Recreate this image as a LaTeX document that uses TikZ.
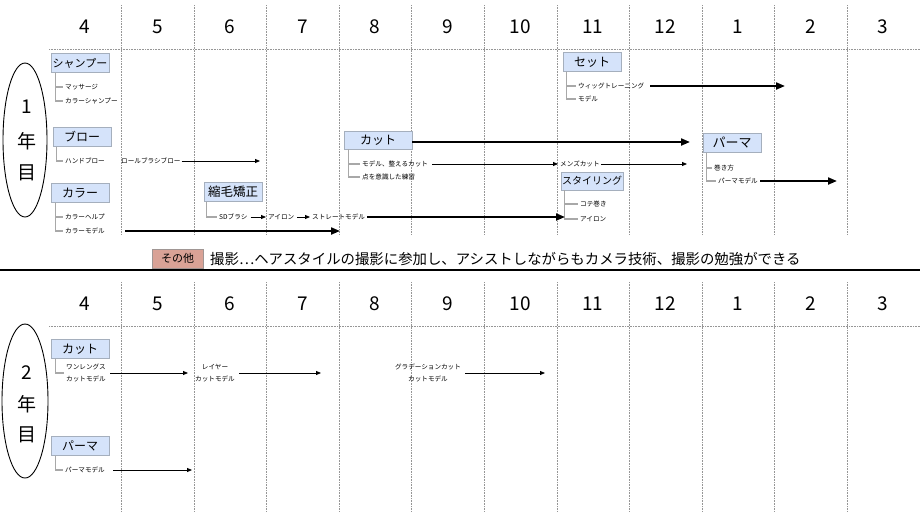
\documentclass[tikz,border=0pt]{standalone}
\usepackage{fontspec}
\setmainfont{Noto Sans CJK JP}
\usetikzlibrary{arrows.meta,shapes.geometric}
\definecolor{boxfill}{RGB}{213,227,250}
\definecolor{boxdraw}{RGB}{165,175,189}
\definecolor{salmon}{RGB}{217,162,150}
\definecolor{salmondraw}{RGB}{160,150,148}
\definecolor{treegray}{RGB}{168,168,168}
\definecolor{divgray}{RGB}{150,150,150}
\begin{document}
\begin{tikzpicture}[x=1pt,y=-1pt,
  month/.style={font=\fontsize{19}{19}\selectfont},
  yeartxt/.style={font=\fontsize{19}{19}\selectfont},
  divider/.style={draw=divgray,line width=0.6pt,dash pattern=on 0.8pt off 0.8pt},
  cat/.style={draw=boxdraw,fill=boxfill,line width=0.9pt,minimum width=58pt,minimum height=19pt,inner sep=1pt,font=\fontsize{12}{12}\selectfont},
  other/.style={draw=salmondraw,fill=salmon,line width=0.9pt,minimum width=51pt,minimum height=19pt,inner sep=1pt,font=\fontsize{11}{11}\selectfont},
  leaf/.style={anchor=west,inner sep=2pt,font=\fontsize{6.6}{7}\selectfont},
  leaftwo/.style={inner sep=2pt,align=center,font=\fontsize{6.6}{12}\selectfont},
  tree/.style={draw=treegray,line width=1.6pt},
  thin/.style={line width=0.8pt,-{Triangle[length=5pt,width=4pt]}},
  thick/.style={line width=2pt,-{Triangle[length=9pt,width=7pt]}},
  ell/.style={draw=black,line width=0.9pt,ellipse,inner sep=0pt}
]
\useasboundingbox (0,0) rectangle (920,517);

% ---------- grid ----------
\foreach \m [count=\i from 0] in {4,5,6,7,8,9,10,11,12,1,2,3} {
  \node[month] (ma\i) at (85+72.55*\i,27) {\m};
  \node[month] (mb\i) at (85+72.55*\i,304) {\m};
}
\foreach \i in {1,...,11} {
  \draw[divider] (49+72.55*\i,5) -- (49+72.55*\i,235);
  \draw[divider] (49+72.55*\i,282) -- (49+72.55*\i,512);
}
\draw[divider] (49,49) -- (920,49);
\draw[divider] (49,326) -- (920,326);

% ---------- year 1 ----------
\node[ell,minimum width=44pt,minimum height=154pt] (y1) at (25,140) {};
\node[yeartxt] (y1a) at (27,107) {1};
\node[yeartxt] (y1b) at (27,141) {年};
\node[yeartxt] (y1c) at (27,173) {目};

% シャンプー
\node[cat,font=\fontsize{11}{11}\selectfont] (sh) at (80,63) {シャンプー};
\node[leaf] (ms) at (63,87) {マッサージ};
\node[leaf] (csh) at (63,101) {カラーシャンプー};
\draw[tree] ([xshift=5pt]sh.south west) |- (ms.west);
\draw[tree] ([xshift=5pt]sh.south west) |- (csh.west);

% ブロー
\node[cat] (bl) at (82,137) {ブロー};
\node[leaf] (hb) at (63,161) {ハンドブロー};
\draw[tree] ([xshift=4pt]bl.south west) |- (hb.west);
\node[leaf,inner sep=1pt] (rb) at (120,161) {ロールブラシブロー};
\coordinate (rbend) at (260,161);
\draw[thin] (rb.east) -- (rbend);

% カラー
\node[cat] (ca) at (80,193) {カラー};
\node[leaf] (ch) at (63,217) {カラーヘルプ};
\node[leaf] (cm) at (63,231) {カラーモデル};
\draw[tree] ([xshift=5pt]ca.south west) |- (ch.west);
\draw[tree] ([xshift=5pt]ca.south west) |- (cm.west);
\coordinate (cmend) at (340,231);
\draw[thick,shorten <=18pt] (cm.east) -- (cmend);

% 縮毛矯正
\node[cat,font=\fontsize{12.5}{12.5}\selectfont] (sk) at (233,192) {縮毛矯正};
\node[leaf] (sd) at (217,217) {SDブラシ};
\node[leaf] (ir) at (266,217) {アイロン};
\node[leaf] (stm) at (310,217) {ストレートモデル};
\draw[tree] ([xshift=3pt]sk.south west) |- (sd.west);
\draw[thin,shorten <=1pt] (sd.east) -- (ir.west);
\draw[thin,shorten <=1pt] (ir.east) -- (stm.west);

% カット
\node[cat,minimum width=68pt,minimum height=18pt] (ct) at (378,140) {カット};
\node[leaf] (mc) at (360,164) {モデル、整えるカット};
\node[leaf] (tn) at (360,177) {点を意識した練習};
\draw[tree] ([xshift=5pt]ct.south west) |- (mc.west);
\draw[tree] ([xshift=5pt]ct.south west) |- (tn.west);
\node[leaf,inner sep=1pt] (mens) at (559,164) {メンズカット};
\draw[thin,shorten <=2pt,shorten >=1pt] (mc.east) -- (mens.west);
\coordinate (mensend) at (687,164);
\draw[thin] (mens.east) -- (mensend);

% スタイリング
\node[cat,font=\fontsize{10}{10}\selectfont,minimum height=18pt] (st) at (592,181) {スタイリング};
\node[leaf] (kt) at (578,204) {コテ巻き};
\node[leaf] (ir2) at (578,219) {アイロン};
\draw[tree] ([xshift=4pt]st.south west) |- (kt.west);
\draw[tree] ([xshift=4pt]st.south west) |- (ir2.west);
\coordinate (stmend) at (565,217);
\draw[thick] (stm.east) -- (stmend);

% セット
\node[cat] (se) at (592,62) {セット};
\node[leaf] (wt) at (576,86) {ウィッグトレーニング};
\node[leaf] (md) at (576,99) {モデル};
\draw[tree] ([xshift=4pt]se.south west) |- (wt.west);
\draw[tree] ([xshift=4pt]se.south west) |- (md.west);
\coordinate (wtend) at (785,86);
\draw[thick,shorten <=4pt] (wt.east) -- (wtend);

% パーマ
\node[cat,font=\fontsize{13}{13}\selectfont] (pm) at (732,143) {パーマ};
\node[leaf] (mk) at (712,168) {巻き方};
\node[leaf] (pmm) at (716,181) {パーマモデル};
\draw[tree] ([xshift=4pt]pm.south west) |- (mk.west);
\draw[tree] ([xshift=4pt]pm.south west) |- (pmm.west);
\coordinate (pmend) at (837,181);
\draw[thick] (pmm.east) -- (pmend);

\coordinate (ctend) at (690,142);
\draw[thick] (ct.east |- ctend) -- (ctend);

% ---------- middle ----------
\node[other] (ot) at (177.5,258.5) {その他};
\node[anchor=west,inner sep=0pt,font=\fontsize{14.4}{14.4}\selectfont] (ottxt) at (210,259) {撮影…ヘアスタイルの撮影に参加し、アシストしながらもカメラ技術、撮影の勉強ができる};
\coordinate (sepl) at (0,270);
\coordinate (sepr) at (920,270);
\draw[line width=2.6pt] (sepl) -- (sepr);

% ---------- year 2 ----------
\node[ell,minimum width=46pt,minimum height=154pt] (y2) at (25,401) {};
\node[yeartxt] (y2a) at (27,373) {2};
\node[yeartxt] (y2b) at (27,404) {年};
\node[yeartxt] (y2c) at (27,435) {目};

\node[cat] (c2) at (80,349) {カット};
\node[leaftwo,anchor=west] (wl) at (64,373) {ワンレングス\\カットモデル};
\draw[tree] ([xshift=5pt]c2.south west) |- (wl.west);
\node[leaftwo] (ly) at (215,373) {レイヤー\\カットモデル};
\node[leaftwo] (gr) at (428,373) {グラデーションカット\\カットモデル};
\draw[thin,shorten <=2pt,shorten >=5pt] (wl.east) -- (ly.west);
\coordinate (lyend) at (321,373);
\draw[thin,shorten <=2pt] (ly.east) -- (lyend);
\coordinate (grend) at (545,373);
\draw[thin,shorten <=2pt] (gr.east) -- (grend);

\node[cat] (p2) at (80,446) {パーマ};
\node[leaf] (pm2) at (63,470) {パーマモデル};
\draw[tree] ([xshift=5pt]p2.south west) |- (pm2.west);
\coordinate (pm2end) at (192,470);
\draw[thin,shorten <=6pt] (pm2.east) -- (pm2end);
\end{tikzpicture}
\end{document}
